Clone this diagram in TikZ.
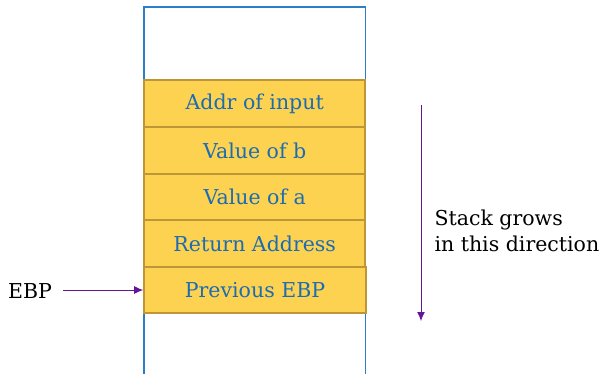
\documentclass[tikz,border=0pt]{standalone}
\usepackage{fontspec}
\setmainfont{DejaVu Serif}
\usetikzlibrary{arrows.meta}
\definecolor{boxfill}{RGB}{252,210,80}
\definecolor{boxedge}{RGB}{190,150,55}
\definecolor{boxtext}{RGB}{28,108,178}
\definecolor{frameblue}{RGB}{45,125,200}
\definecolor{arrowpurple}{RGB}{100,20,150}
\begin{document}
\begin{tikzpicture}[x=1pt,y=-1pt,
  slot/.style={draw=boxedge, fill=boxfill, line width=1.6pt, minimum width=221pt, minimum height=46.5pt, inner sep=0pt, text=boxtext, font=\fontsize{20.5}{24}\selectfont, anchor=center},
  lbl/.style={font=\fontsize{20.5}{26}\selectfont, text=black},
  pointer/.style={draw=arrowpurple, line width=1pt, -{Latex[length=9pt,width=8pt]}},
  frame/.style={draw=frameblue, line width=1.5pt}]
\useasboundingbox (0,0) rectangle (604,373);
% stack frame outline (open at bottom)
\coordinate (fbl) at (144,374);
\coordinate (ftl) at (144,7);
\coordinate (ftr) at (365.5,7);
\coordinate (fbr) at (365.5,374);
\draw[frame] (fbl) -- (ftl) -- (ftr) -- (fbr);
% stack slots
\node[slot] (p1) at (254.75,103.5) {Addr of input};
\node[slot] (p2) at (254.75,150.5) {Value of b};
\node[slot] (p3) at (254.75,197) {Value of a};
\node[slot] (p4) at (254.75,243.5) {Return Address};
\node[slot, minimum width=222pt] (p5) at (255,290) {Previous EBP};
% EBP pointer
\node[lbl] (ebp) at (30,291) {EBP};
\draw[pointer] ([xshift=8pt]ebp.east |- p5.west) -- (p5.west);
% growth direction
\coordinate (gtop) at (421,105);
\coordinate (gbot) at (421,321);
\draw[pointer] (gtop) -- (gbot);
\node[lbl, anchor=west, align=left] (note) at (431,231) {Stack grows\\in this direction};
\end{tikzpicture}
\end{document}
